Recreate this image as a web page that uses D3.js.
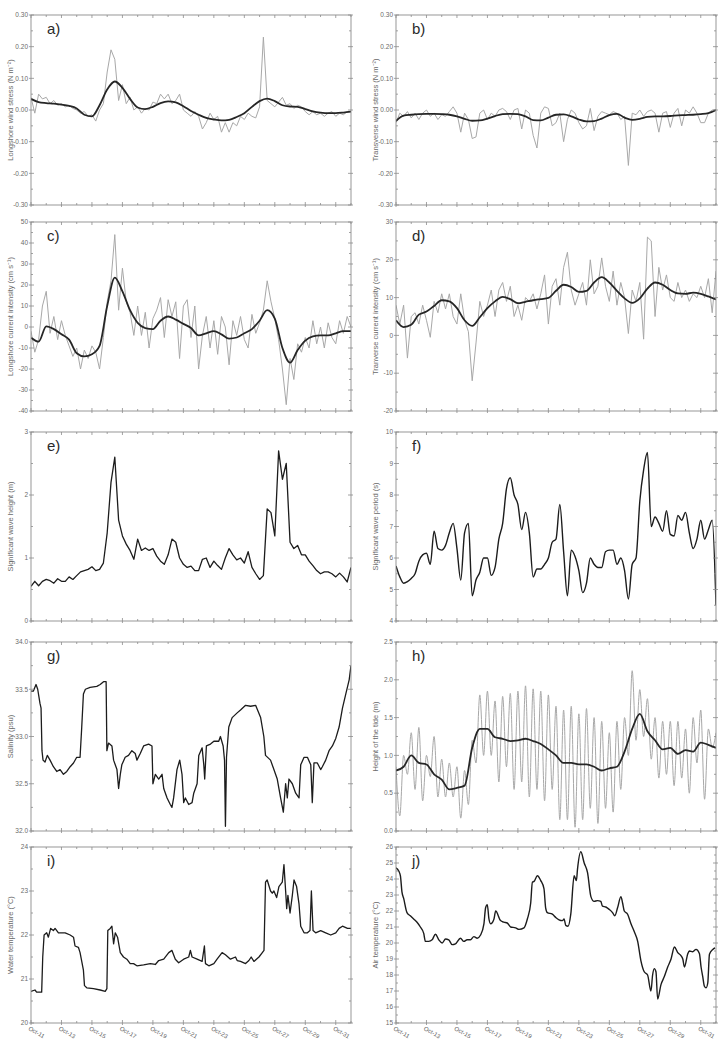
<!DOCTYPE html>
<html>
<head>
<meta charset="utf-8">
<script src="https://cdn.jsdelivr.net/npm/d3@7"></script>
<style>
  body { margin: 0; background: #fff; }
  svg { display: block; }
  text { font-family: "Liberation Sans", Arial, sans-serif; }
</style>
</head>
<body>
<svg id="chart" width="727" height="1040"></svg>
<script>
// days since Oct-11 00:00; x labels every 2 days
const dayLabels = ["Oct-11", "Oct-13", "Oct-15", "Oct-17", "Oct-19", "Oct-21", "Oct-23", "Oct-25", "Oct-27", "Oct-29", "Oct-31"];

// a) longshore wind stress, raw every 6 h, filtered every 12 h
const lwsRaw = [0.04,-0.01,0.05,0.035,0.04,0.02,0.03,0.015,0.02,0.01,
  0.015,0.005,0.0,-0.01,-0.005,-0.02,-0.015,-0.035,0.0,0.02,
  0.12,0.19,0.16,0.03,0.08,0.02,0.04,0.0,0.01,-0.01,
  0.005,0.0,0.025,0.02,0.05,0.035,0.05,0.02,0.03,0.05,
  0.0,-0.01,-0.02,-0.005,-0.02,-0.06,-0.04,-0.01,-0.03,-0.02,
  -0.07,-0.04,-0.07,-0.04,-0.05,-0.02,-0.03,-0.01,-0.02,-0.025,
  0.01,0.23,0.03,0.02,0.01,0.025,0.04,0.015,0.02,0.005,
  0.015,0.01,-0.005,-0.015,-0.005,-0.015,-0.01,-0.02,-0.01,-0.005,
  -0.02,-0.01,-0.015,-0.005,-0.005];
const lwsSmooth = [0.035,0.025,0.022,0.02,0.017,0.013,0.005,-0.015,-0.02,0.015,
  0.065,0.09,0.07,0.035,0.008,0.003,0.01,0.022,0.027,0.024,
  0.012,-0.003,-0.015,-0.025,-0.03,-0.033,-0.031,-0.022,-0.01,0.01,
  0.028,0.036,0.028,0.015,0.011,0.01,0.003,-0.004,-0.008,-0.01,
  -0.01,-0.008,-0.005];

// b) transverse wind stress
const twsRaw = [-0.04,-0.01,-0.02,-0.005,-0.025,-0.01,-0.03,-0.01,0.0,-0.02,
  -0.01,-0.03,-0.015,-0.02,-0.005,0.01,-0.01,-0.07,-0.01,-0.03,
  -0.09,-0.085,-0.01,0.0,-0.03,-0.01,-0.02,0.0,0.005,-0.005,
  -0.03,0.0,0.005,-0.06,0.0,-0.01,-0.08,-0.12,-0.01,0.01,
  0.005,-0.05,-0.04,-0.01,-0.1,-0.03,0.0,-0.01,-0.04,-0.06,
  -0.05,0.005,-0.065,-0.02,-0.005,-0.01,-0.015,-0.005,-0.01,-0.03,
  -0.02,-0.175,-0.01,-0.015,0.0,-0.02,-0.005,0.0,-0.01,-0.07,
  -0.01,-0.005,-0.055,-0.01,0.005,-0.05,0.0,-0.01,0.01,-0.01,
  -0.04,-0.04,-0.01,0.0,0.0];
const twsSmooth = [-0.035,-0.018,-0.015,-0.013,-0.012,-0.012,-0.013,-0.015,-0.02,-0.028,
  -0.034,-0.033,-0.027,-0.019,-0.013,-0.012,-0.013,-0.02,-0.032,-0.033,
  -0.024,-0.015,-0.014,-0.02,-0.03,-0.036,-0.035,-0.027,-0.016,-0.012,
  -0.024,-0.031,-0.028,-0.022,-0.02,-0.02,-0.019,-0.017,-0.016,-0.015,
  -0.013,-0.01,0.0];

// c) longshore current
const lcRaw = [-2,-12,-6,10,17,-3,5,-6,3,-4,
  -9,-14,-10,-20,-11,-15,-9,-12,-20,-5,
  12,22,44,8,28,12,7,-4,10,-4,
  7,-10,4,8,14,-5,13,5,12,-15,
  10,13,-5,10,-20,-4,5,-10,3,-13,
  5,0,-18,3,-4,5,-6,-10,6,-3,
  2,8,22,12,4,-6,-20,-37,-15,-25,
  -8,-12,-5,-10,3,-8,0,-10,2,-5,
  -8,3,-3,5,0];
const lcSmooth = [-5,-7,0.3,-1,-3.5,-6,-12.5,-14,-13,-9,
  10,23.5,17,8,2,-0.5,-1,3,5,3.5,
  1.5,-0.5,-4,-3,-2,-3.5,-5.5,-5,-3,-1,
  3,8,4,-10,-17,-11,-6.5,-4.5,-4,-4,
  -3,-2,-2];

// d) transverse current
const tcRaw = [8,3,8,-6,5,6,3,8,4,-0.5,
  9,6,11,7,11,5,3,11,4,1,
  -12,-2,9,5,8,12,5,12,14,9,
  13,5,8,4,10,9,11,7,11,16,
  3,13,15,8,18,22,12,8,11,14,
  8,20,11,13,20.5,13,9,17,8,14,
  10,0.5,12,9,14,-1,26,25,5,18,
  12,16,10,9,14,10,12,9,11,10,
  13,10,15,6,17];
const tcSmooth = [4,2.2,2.8,5.5,6.3,7.8,9.3,9,7.2,4,
  2.5,4.8,7.2,9,10.2,9.6,8.5,8.9,9.3,9.6,
  9.9,11.8,13.4,12.8,11.5,11.8,14,15.4,14,11.8,
  9.8,8.6,9.8,12.4,14,13.4,12,11.1,11,11.3,
  11,10.3,9.5];

// e) significant wave height, every 6 h
const waveHeight = [0.55,0.63,0.56,0.63,0.66,0.64,0.6,0.67,0.63,0.63,
  0.7,0.66,0.72,0.78,0.8,0.82,0.86,0.8,0.82,0.92,
  1.4,2.2,2.6,1.6,1.35,1.22,1.12,0.98,1.3,1.12,
  1.16,1.12,1.15,1.03,0.95,0.9,1.05,1.3,1.25,1.0,
  0.9,0.85,0.87,0.8,0.8,0.98,1.0,0.85,0.95,0.88,
  0.82,1.0,1.15,1.05,0.97,1.0,0.92,1.1,0.85,0.75,
  0.66,0.72,1.78,1.72,1.35,2.7,2.25,2.5,1.25,1.15,
  1.2,1.05,1.05,0.95,0.88,0.8,0.75,0.78,0.78,0.75,
  0.7,0.76,0.7,0.62,0.85];

// f) significant wave period, every 6 h
const wavePeriod = [5.75,5.4,5.2,5.25,5.35,5.5,5.9,6.1,6.15,5.8,
  6.85,6.3,6.25,6.4,6.8,7.1,6.3,5.3,6.8,7.1,
  4.8,5.3,5.55,6.0,6.0,5.45,5.7,6.6,7.1,8.2,
  8.55,8.0,7.7,6.9,7.45,6.8,5.4,5.65,5.65,5.8,
  6.0,6.5,6.6,7.7,6.2,4.8,6.25,6.05,5.6,4.9,
  5.2,6.0,5.8,5.7,5.7,6.2,6.25,6.25,5.8,6.0,
  5.6,4.7,5.8,6.0,7.8,8.8,9.35,7.0,7.3,7.1,
  6.85,7.5,6.75,6.7,7.35,7.2,7.45,6.8,6.3,6.6,
  7.2,6.6,6.9,7.2,4.5];

// g) salinity, sampled at breakpoints
const salDay = [0,0.15,0.33,0.44,0.59,0.66,0.72,0.79,0.92,1.07,
  1.25,1.47,1.69,1.91,2.13,2.35,2.57,2.79,3.0,3.22,
  3.33,3.44,3.57,3.88,4.32,4.54,4.76,4.93,4.98,5.09,
  5.31,5.42,5.64,5.75,5.86,5.96,6.18,6.4,6.62,6.84,
  6.95,7.17,7.39,7.72,7.94,8.0,8.16,8.38,8.6,8.71,
  8.93,9.14,9.25,9.36,9.58,9.76,9.91,10.02,10.13,10.35,
  10.57,10.68,10.9,11.01,11.23,11.34,11.4,11.51,11.78,12.0,
  12.32,12.43,12.61,12.7,12.76,12.83,12.98,13.2,13.53,13.75,
  14.08,14.41,14.74,15.07,15.28,15.39,15.72,15.94,16.16,16.38,
  16.56,16.71,16.82,16.93,17.15,17.37,17.59,17.7,17.92,18.14,
  18.36,18.46,18.57,18.79,19.01,19.12,19.34,19.56,19.78,20.0,
  20.22,20.44,20.66,20.88,21.0];
const salVal = [33.48,33.48,33.55,33.5,33.35,33.3,32.85,32.75,32.73,32.8,
  32.75,32.68,32.63,32.65,32.6,32.63,32.68,32.72,32.78,32.78,
  33.1,33.45,33.5,33.52,33.53,33.55,33.58,33.58,32.85,32.93,
  32.9,32.75,32.65,32.45,32.6,32.7,32.78,32.8,32.85,32.82,
  32.75,32.82,32.9,32.92,32.9,32.5,32.6,32.55,32.6,32.45,
  32.35,32.28,32.25,32.35,32.65,32.75,32.6,32.3,32.35,32.28,
  32.3,32.4,32.5,32.8,32.88,32.7,32.55,32.9,32.92,32.95,
  32.95,33.0,32.9,32.75,32.05,32.78,33.1,33.2,33.25,33.28,
  33.33,33.32,33.33,33.2,33.0,32.8,32.75,32.65,32.55,32.35,
  32.2,32.5,32.35,32.55,32.5,32.4,32.35,32.7,32.78,32.78,
  32.7,32.3,32.72,32.72,32.65,32.68,32.75,32.85,32.9,32.98,
  33.1,33.3,33.45,33.6,33.75];

// h) tide, raw every 6 h (high/low), filtered every 12 h
const tideRaw = [0.85,0.2,1.0,0.75,1.3,0.55,1.37,0.4,1.0,0.72,
  1.25,0.45,0.95,0.45,0.9,0.45,0.85,0.17,0.8,0.35,
  1.2,0.9,1.8,1.0,1.85,1.0,1.72,0.65,1.78,0.85,
  1.82,0.55,1.85,0.65,1.92,0.45,1.88,0.55,1.85,0.4,
  1.8,0.55,1.65,0.15,1.6,0.15,1.65,0.05,1.55,0.15,
  1.62,0.3,1.5,0.1,1.45,0.3,1.3,0.25,1.45,0.55,
  1.5,1.0,2.12,1.2,1.87,1.25,1.75,0.95,1.5,0.7,
  1.45,0.75,1.45,0.6,1.45,0.7,1.35,0.5,1.5,0.9,
  1.6,0.42,1.35,1.1,1.3];
const tideSmooth = [0.8,0.85,1.0,0.9,0.88,0.75,0.68,0.55,0.57,0.6,
  1.1,1.35,1.35,1.24,1.22,1.19,1.2,1.22,1.19,1.15,
  1.08,1.0,0.9,0.9,0.88,0.88,0.85,0.8,0.83,0.85,
  1.05,1.35,1.55,1.32,1.2,1.08,1.1,1.02,1.07,1.05,
  1.17,1.14,1.1];

// i) water temperature, breakpoints
const wtDay = [0,0.26,0.37,0.7,0.77,0.86,1.03,1.14,1.29,1.47,
  1.58,1.8,2.24,2.57,2.79,2.89,3.11,3.22,3.33,3.44,
  3.51,3.66,4.1,4.54,4.87,4.98,5.04,5.2,5.31,5.42,
  5.53,5.68,5.86,6.07,6.29,6.51,6.73,6.95,7.39,7.83,
  8.16,8.38,8.71,9.04,9.25,9.47,9.69,10.02,10.35,10.46,
  10.57,10.9,11.23,11.38,11.45,11.67,12.0,12.21,12.54,12.76,
  13.09,13.42,13.53,13.75,14.08,14.3,14.45,14.63,14.96,15.18,
  15.29,15.39,15.5,15.72,15.83,15.94,16.12,16.27,16.49,16.6,
  16.71,16.78,16.86,17.0,17.15,17.26,17.43,17.59,17.7,17.92,
  18.14,18.31,18.4,18.51,18.68,19.01,19.34,19.67,20.0,20.22,
  20.44,20.77,21.0];
const wtVal = [20.72,20.75,20.7,20.7,21.5,22.0,22.05,21.95,22.15,22.1,
  22.15,22.05,22.05,22.0,21.95,21.75,21.72,21.6,21.4,21.2,
  20.85,20.8,20.78,20.75,20.72,20.78,22.1,22.15,22.2,21.8,
  22.05,21.95,21.6,21.5,21.45,21.35,21.35,21.3,21.32,21.35,
  21.33,21.42,21.45,21.6,21.65,21.45,21.37,21.45,21.5,21.65,
  21.5,21.45,21.4,21.75,21.35,21.3,21.35,21.45,21.6,21.55,
  21.45,21.5,21.42,21.4,21.35,21.42,21.5,21.4,21.5,21.6,
  21.65,23.2,23.25,23.0,22.95,23.0,22.85,23.1,23.2,23.6,
  23.0,22.6,22.9,22.5,22.9,23.25,23.1,22.7,22.2,22.05,
  22.05,22.1,23.0,22.1,22.05,22.1,22.05,22.0,22.05,22.15,
  22.2,22.15,22.15];

// j) air temperature, breakpoints
const atDay = [0,0.18,0.29,0.39,0.5,0.72,0.94,1.16,1.38,1.6,
  1.82,1.93,2.15,2.37,2.59,2.81,3.03,3.25,3.46,3.68,
  3.9,4.23,4.45,4.67,4.89,5.11,5.33,5.55,5.77,5.88,
  5.99,6.1,6.21,6.43,6.54,6.86,7.08,7.3,7.52,7.85,
  8.07,8.4,8.62,8.84,8.95,9.06,9.28,9.5,9.71,9.82,
  9.93,10.26,10.48,10.7,10.92,11.03,11.14,11.29,11.47,11.69,
  11.84,11.91,12.13,12.35,12.57,12.79,13.0,13.22,13.44,13.55,
  13.77,13.99,14.21,14.36,14.54,14.76,14.87,14.98,15.2,15.42,
  15.64,15.86,16.07,16.29,16.51,16.73,16.84,16.95,17.06,17.17,
  17.39,17.61,17.83,18.05,18.27,18.49,18.71,18.82,18.93,19.14,
  19.25,19.47,19.69,19.91,20.02,20.13,20.24,20.35,20.46,20.57,
  20.79,20.94];
const atVal = [24.7,24.5,24.2,23.2,22.8,21.9,21.7,21.5,21.3,21.0,
  20.6,20.1,20.1,20.2,20.55,20.2,20.0,20.25,20.2,19.9,
  19.95,20.3,20.1,20.2,20.2,20.4,20.3,20.5,21.2,22.2,
  22.4,21.5,21.2,21.5,22.0,21.4,21.3,21.25,21.0,20.95,
  20.85,20.95,21.5,22.5,23.8,23.85,24.2,23.9,23.4,22.2,
  21.9,21.8,21.6,21.45,21.4,21.5,21.1,21.05,21.8,24.2,
  23.9,24.6,25.7,25.0,24.4,22.9,22.6,22.65,22.6,22.3,
  22.25,22.1,21.9,21.7,22.2,22.9,22.5,22.0,21.8,21.2,
  20.7,20.1,18.9,18.2,18.0,17.0,18.0,18.4,18.2,16.5,
  17.4,17.9,18.5,19.0,19.75,19.4,19.2,19.0,18.5,19.3,
  19.5,19.45,19.6,19.35,18.5,17.9,17.3,17.2,17.5,19.3,
  19.6,19.7];

const grid = (vals, step) => vals.map((v, i) => [i * step, v]);
const pairs = (t, v) => t.map((d, i) => [d, v[i]]);

const cols = [{ left: 31, right: 351 }, { left: 396, right: 716 }];
const rows = [
  { top: 15, bottom: 205 },
  { top: 222, bottom: 411 },
  { top: 432, bottom: 621 },
  { top: 642, bottom: 831 },
  { top: 847, bottom: 1023 }
];

const panels = [
  { tag: "a)", row: 0, col: 0, domain: [-0.3, 0.3], step: 0.1, dec: 2,
    title: "Longshore wind stress (N m\u207B\u00B2)",
    lines: [{ data: grid(lwsRaw, 0.25), kind: "raw" }, { data: grid(lwsSmooth, 0.5), kind: "smooth" }] },
  { tag: "b)", row: 0, col: 1, domain: [-0.3, 0.3], step: 0.1, dec: 2,
    title: "Transverse wind stress (N m\u207B\u00B2)",
    lines: [{ data: grid(twsRaw, 0.25), kind: "raw" }, { data: grid(twsSmooth, 0.5), kind: "smooth" }] },
  { tag: "c)", row: 1, col: 0, domain: [-40, 50], step: 10, dec: 0,
    title: "Longshore current intensity (cm s\u207B\u00B9)",
    lines: [{ data: grid(lcRaw, 0.25), kind: "raw" }, { data: grid(lcSmooth, 0.5), kind: "smooth" }] },
  { tag: "d)", row: 1, col: 1, domain: [-20, 30], step: 10, dec: 0,
    title: "Tranverse current intensity (cm s\u207B\u00B9)",
    lines: [{ data: grid(tcRaw, 0.25), kind: "raw" }, { data: grid(tcSmooth, 0.5), kind: "smooth" }] },
  { tag: "e)", row: 2, col: 0, domain: [0, 3], step: 1, dec: 0,
    title: "Significant wave height (m)",
    lines: [{ data: grid(waveHeight, 0.25), kind: "single" }] },
  { tag: "f)", row: 2, col: 1, domain: [4, 10], step: 1, dec: 0,
    title: "Significant wave period (s)",
    lines: [{ data: grid(wavePeriod, 0.25), kind: "curve" }] },
  { tag: "g)", row: 3, col: 0, domain: [32, 34], step: 0.5, dec: 1,
    title: "Salinity (psu)",
    lines: [{ data: pairs(salDay, salVal), kind: "single" }] },
  { tag: "h)", row: 3, col: 1, domain: [0, 2.5], step: 0.5, dec: 1,
    title: "Height of the tide (m)",
    lines: [{ data: grid(tideRaw, 0.25), kind: "rawCurve" }, { data: grid(tideSmooth, 0.5), kind: "smooth" }] },
  { tag: "i)", row: 4, col: 0, domain: [20, 24], step: 1, dec: 0,
    title: "Water temperature (\u00B0C)", xLabels: true,
    lines: [{ data: pairs(wtDay, wtVal), kind: "single" }] },
  { tag: "j)", row: 4, col: 1, domain: [15, 26], step: 1, dec: 0,
    title: "Air temperature (\u00B0C)", xLabels: true,
    lines: [{ data: pairs(atDay, atVal), kind: "curve" }] }
];

const styles = {
  raw: { stroke: "#a8a8a8", width: 1, curve: d3.curveLinear },
  rawCurve: { stroke: "#a8a8a8", width: 1, curve: d3.curveMonotoneX },
  smooth: { stroke: "#262626", width: 1.8, curve: d3.curveMonotoneX },
  single: { stroke: "#1c1c1c", width: 1.3, curve: d3.curveLinear },
  curve: { stroke: "#1c1c1c", width: 1.4, curve: d3.curveMonotoneX }
};

const svg = d3.select("#chart");
const frameColor = "#8c8c8c";
const textColor = "#6a6a6a";

panels.forEach((p, k) => drawPanel(p, k));

function drawPanel(p, k) {
  const { left, right } = cols[p.col];
  const { top, bottom } = rows[p.row];
  const x = d3.scaleLinear().domain([0, 21]).range([left, right]);
  const y = d3.scaleLinear().domain(p.domain).range([bottom, top]);
  const g = svg.append("g");

  g.append("clipPath").attr("id", "clip" + k)
    .append("rect")
    .attr("x", left).attr("y", top)
    .attr("width", right - left).attr("height", bottom - top);

  const plot = g.append("g").attr("clip-path", `url(#clip${k})`);
  p.lines.forEach(l => {
    const s = styles[l.kind];
    plot.append("path")
      .datum(l.data)
      .attr("fill", "none")
      .attr("stroke", s.stroke)
      .attr("stroke-width", s.width)
      .attr("stroke-linejoin", "round")
      .attr("d", d3.line().x(d => x(d[0])).y(d => y(d[1])).curve(s.curve));
  });

  g.append("rect")
    .attr("x", left).attr("y", top)
    .attr("width", right - left).attr("height", bottom - top)
    .attr("fill", "none")
    .attr("stroke", frameColor)
    .attr("stroke-width", 0.9);

  // y ticks (major labelled, minor at half step), both sides
  const [lo, hi] = p.domain;
  const n = Math.round((hi - lo) / p.step);
  const major = d3.range(n + 1).map(i => lo + i * p.step);
  const minor = d3.range(n).map(i => lo + (i + 0.5) * p.step);
  const tk = g.append("g").attr("stroke", frameColor).attr("stroke-width", 0.8);
  major.forEach(v => {
    tk.append("line").attr("x1", left - 2).attr("x2", left + 3).attr("y1", y(v)).attr("y2", y(v));
    tk.append("line").attr("x1", right - 3).attr("x2", right + 2).attr("y1", y(v)).attr("y2", y(v));
  });
  minor.forEach(v => {
    tk.append("line").attr("x1", left).attr("x2", left + 2).attr("y1", y(v)).attr("y2", y(v));
    tk.append("line").attr("x1", right - 2).attr("x2", right).attr("y1", y(v)).attr("y2", y(v));
  });

  // x ticks every day, top and bottom
  d3.range(22).forEach(d => {
    const len = d % 2 === 0 ? 3 : 2;
    tk.append("line").attr("x1", x(d)).attr("x2", x(d)).attr("y1", top).attr("y2", top + len);
    tk.append("line").attr("x1", x(d)).attr("x2", x(d)).attr("y1", bottom - len).attr("y2", bottom + (d % 2 === 0 ? 2 : 0));
  });

  g.append("g").selectAll("text")
    .data(major)
    .join("text")
    .attr("x", left - 3)
    .attr("y", v => y(v))
    .attr("dy", "0.35em")
    .attr("text-anchor", "end")
    .attr("font-size", 6.5)
    .attr("fill", textColor)
    .text(v => Math.abs(v) < 1e-9 ? (0).toFixed(p.dec) : v.toFixed(p.dec));

  g.append("text")
    .attr("transform", `translate(${left - 21},${(top + bottom) / 2}) rotate(-90)`)
    .attr("text-anchor", "middle")
    .attr("dy", "0.35em")
    .attr("font-size", 7.5)
    .attr("fill", textColor)
    .text(p.title);

  g.append("text")
    .attr("x", left + 16)
    .attr("y", top + 19)
    .attr("font-size", 15)
    .attr("fill", "#2a2a2a")
    .text(p.tag);

  if (p.xLabels) {
    g.append("g").selectAll("text")
      .data(dayLabels)
      .join("text")
      .attr("transform", (t, i) => `translate(${x(i * 2) - 1},${bottom + 3}) rotate(30)`)
      .attr("dy", "0.7em")
      .attr("text-anchor", "start")
      .attr("font-size", 6)
      .attr("fill", textColor)
      .text(t => t);
  }
}
</script>
</body>
</html>
